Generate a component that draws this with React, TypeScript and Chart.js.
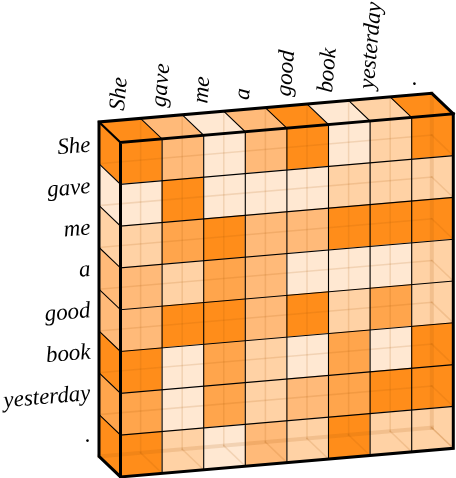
import React, { useEffect, useRef } from "react";
import { Chart, registerables } from "chart.js";

Chart.register(...registerables);

const rowLabels = ["She", "gave", "me", "a", "good", "book", "yesterday", "."];
const colLabels = ["She", "gave", "me", "a", "good", "book", "yesterday", "."];

// attention weight per cell, one array per sentence token
const rowShe = [1.0, 0.6, 0.2, 0.6, 1.0, 0.2, 0.4, 1.0];
const rowGave = [0.2, 1.0, 0.2, 0.2, 0.2, 0.4, 0.4, 0.4];
const rowMe = [0.4, 0.8, 1.0, 0.6, 0.6, 1.0, 1.0, 1.0];
const rowA = [0.6, 0.4, 0.8, 0.6, 0.2, 0.2, 0.2, 0.4];
const rowGood = [0.6, 1.0, 1.0, 0.6, 1.0, 0.4, 0.8, 0.4];
const rowBook = [1.0, 0.2, 0.8, 0.4, 0.2, 0.8, 0.2, 1.0];
const rowYesterday = [0.8, 0.2, 0.8, 0.4, 0.6, 0.8, 1.0, 1.0];
const rowDot = [1.0, 0.4, 0.2, 0.6, 0.4, 1.0, 0.4, 0.4];
const matrix = [rowShe, rowGave, rowMe, rowA, rowGood, rowBook, rowYesterday, rowDot];

const shades: Record<string, string> = {
  "0.2": "#FFE8D2",
  "0.4": "#FFD2A5",
  "0.6": "#FFBA79",
  "0.8": "#FFA54C",
  "1": "#FF8D1A",
};

const N = 8;
const UNIT_X = 41.6;
const UNIT_Y = 41.8;
const ORIGIN_X = 120.5;
const ORIGIN_Y = 142.5;
const SHEAR = 3.58 / UNIT_Y;
const DEPTH_X = 21.5 / UNIT_X;
const DEPTH_Y = 20.5 / UNIT_Y;
const FAINT = "rgba(170,85,10,0.15)";

type P = { x: number; y: number };
const pt = (c: number, r: number, d: number): P => ({
  x: c - d * DEPTH_X,
  y: r - c * SHEAR - d * DEPTH_Y,
});

function buildDatasets() {
  const paint: any[] = [];
  const poly = (pts: P[], fill: string) =>
    paint.push({
      data: [...pts, pts[0]],
      showLine: true,
      fill: "shape",
      backgroundColor: fill,
      borderWidth: 1,
      borderColor: fill,
      pointRadius: 0,
      clip: false,
      tension: 0,
    });
  const line = (pts: P[], color: string, width: number) =>
    paint.push({
      data: pts,
      showLine: true,
      fill: false,
      borderColor: color,
      borderWidth: width,
      pointRadius: 0,
      clip: false,
      tension: 0,
      borderJoinStyle: "miter",
      borderCapStyle: "square",
    });

  // side and top faces
  matrix.forEach((row, r) => {
    poly([pt(0, r, 0), pt(0, r, 1), pt(0, r + 1, 1), pt(0, r + 1, 0)], shades[String(row[0])]);
  });
  rowShe.forEach((v, c) => {
    poly([pt(c, 0, 0), pt(c, 0, 1), pt(c + 1, 0, 1), pt(c + 1, 0, 0)], shades[String(v)]);
  });
  // front face
  matrix.forEach((row, r) =>
    row.forEach((v, c) => {
      poly([pt(c, r, 0), pt(c + 1, r, 0), pt(c + 1, r + 1, 0), pt(c, r + 1, 0)], shades[String(v)]);
    }),
  );
  // rear grid seen through the box
  for (let r = 1; r < N; r++) line([pt(0, r, 1), pt(N, r, 1)], FAINT, 1.5);
  for (let c = 1; c < N; c++) line([pt(c, 0, 1), pt(c, N, 1)], FAINT, 1.5);
  line([pt(0, N, 1), pt(N, N, 1)], FAINT, 4);
  line([pt(N, 0, 1), pt(N, N, 1)], FAINT, 4);
  for (let c = 1; c <= N; c++) line([pt(c, N, 1), pt(c, N, 0)], FAINT, 1.5);
  for (let r = 1; r <= N; r++) line([pt(N, r, 1), pt(N, r, 0)], FAINT, 1.5);
  // cell borders
  for (let r = 1; r < N; r++) line([pt(0, r, 0), pt(N, r, 0)], "#000", 1.1);
  for (let c = 1; c < N; c++) line([pt(c, 0, 0), pt(c, N, 0)], "#000", 1.1);
  for (let r = 1; r < N; r++) line([pt(0, r, 0), pt(0, r, 1)], "#000", 1.1);
  for (let c = 1; c < N; c++) line([pt(c, 0, 0), pt(c, 0, 1)], "#000", 1.1);
  // box outline
  line([pt(0, 0, 0), pt(N, 0, 0), pt(N, N, 0), pt(0, N, 0), pt(0, 0, 0)], "#000", 3);
  line([pt(0, N, 0), pt(0, N, 1), pt(0, 0, 1), pt(N, 0, 1), pt(N, 0, 0)], "#000", 3);
  line([pt(0, 0, 1), pt(0, 0, 0)], "#000", 2.2);
  return paint.reverse();
}

const labelPlugin = {
  id: "boxLabels",
  afterDraw(chart: any) {
    const { ctx, scales } = chart;
    const px = (p: P) => ({ x: scales.x.getPixelForValue(p.x), y: scales.y.getPixelForValue(p.y) });
    const angle = Math.atan2(SHEAR * UNIT_Y, UNIT_X);
    ctx.save();
    ctx.font = 'italic 23px "Liberation Serif"';
    ctx.fillStyle = "#000";
    ctx.textBaseline = "alphabetic";
    rowLabels.forEach((label, r) => {
      const a = px(pt(0, r, 1));
      ctx.save();
      ctx.translate(a.x - 8, a.y + 29.5 - r * 0.4);
      ctx.rotate(-angle);
      ctx.textAlign = "right";
      ctx.fillText(label, 0, 0);
      ctx.restore();
    });
    colLabels.forEach((label, c) => {
      const a = px(pt(c, 0, 1));
      ctx.save();
      ctx.translate(a.x + 25, a.y - 11);
      ctx.rotate(-Math.PI / 2 + angle);
      ctx.textAlign = "left";
      ctx.fillText(label, 0, 0);
      ctx.restore();
    });
    ctx.restore();
  },
};

export default function App() {
  const ref = useRef<HTMLCanvasElement>(null);
  useEffect(() => {
    document.body.style.margin = "0";
    const chart = new Chart(ref.current!, {
      type: "scatter",
      data: { datasets: buildDatasets() },
      options: {
        animation: false,
        responsive: false,
        events: [],
        layout: { padding: 0 },
        plugins: { legend: { display: false }, tooltip: { enabled: false } },
        scales: {
          x: { type: "linear", display: false, min: -ORIGIN_X / UNIT_X, max: (456 - ORIGIN_X) / UNIT_X },
          y: { type: "linear", display: false, reverse: true, min: -ORIGIN_Y / UNIT_Y, max: (478 - ORIGIN_Y) / UNIT_Y },
        },
      },
      plugins: [labelPlugin],
    } as any);
    return () => chart.destroy();
  }, []);
  return (
    <div style={{ width: 456, height: 478 }}>
      <canvas ref={ref} width={456} height={478} style={{ display: "block" }} />
    </div>
  );
}
